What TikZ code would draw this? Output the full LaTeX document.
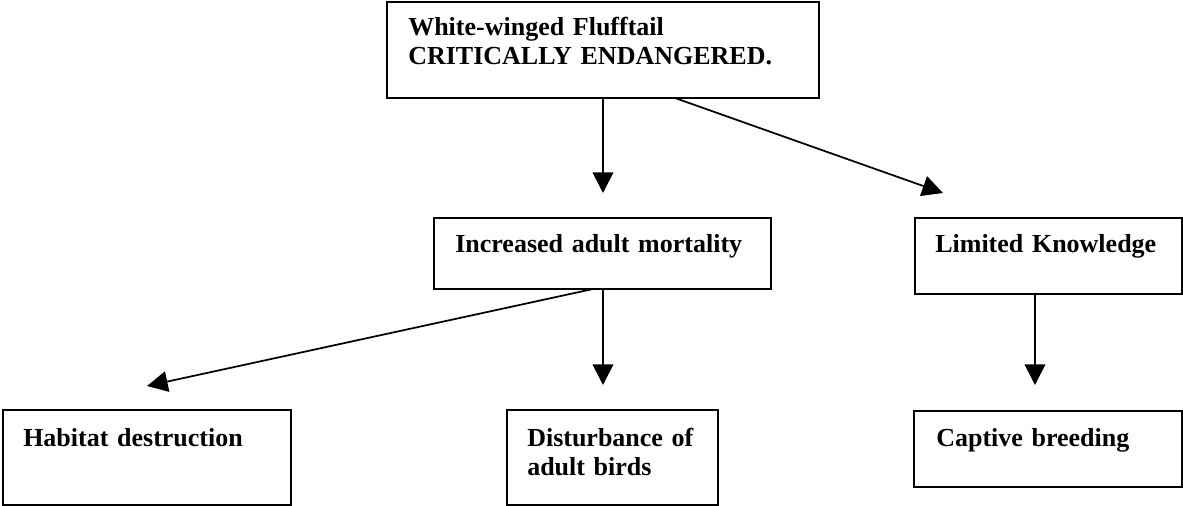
\documentclass[tikz,border=0pt]{standalone}
\usepackage{fontspec}
\setmainfont{Liberation Serif}
\usetikzlibrary{arrows.meta,calc}
\begin{document}
\begin{tikzpicture}[x=0.75pt,y=-0.75pt,
  box/.style={draw,line width=1.6pt,rectangle,inner sep=0pt,outer sep=0pt,anchor=north west},
  lbl/.style={anchor=base west,inner sep=0pt,font=\fontsize{19.5}{21.75}\selectfont\bfseries,text width=300pt,align=left},
  arr/.style={line width=1.3pt,-{Triangle[length=15.5pt,width=15.5pt]}}]
\useasboundingbox (0,0) rectangle (1183,506);
% boxes
\node[box,minimum width=324pt,minimum height=72pt] (top) at (387,2) {};
\node[box,minimum width=252.75pt,minimum height=53.25pt] (inc) at (434,218) {};
\node[box,minimum width=200.25pt,minimum height=57pt] (lim) at (915,218) {};
\node[box,minimum width=216pt,minimum height=71.25pt] (hab) at (3,410) {};
\node[box,minimum width=158.25pt,minimum height=71.25pt] (dist) at (507,410) {};
\node[box,minimum width=201pt,minimum height=57pt] (cap) at (914,411) {};
% texts
\node[lbl] (topt) at ($(top.north west)+(21,34)$) {White-winged Flufftail\\CRITICALLY ENDANGERED.};
\node[lbl] (inct) at ($(inc.north west)+(21,35)$) {Increased adult mortality};
\node[lbl] (limt) at ($(lim.north west)+(20,35)$) {Limited Knowledge};
\node[lbl] (habt) at ($(hab.north west)+(20,36)$) {Habitat destruction};
\node[lbl] (distt) at ($(dist.north west)+(20,36)$) {Disturbance of\\adult birds};
\node[lbl] (capt) at ($(cap.north west)+(22,35)$) {Captive breeding};
% arrow tips
\coordinate (t1) at (603,193);
\coordinate (t2) at (943,193);
\coordinate (t3) at (147,386);
\coordinate (t4) at (603,385);
\coordinate (t5) at (1035,385);
% connectors
\draw[arr] (top.south) -- (t1);
\draw[arr] ($(top.south)+(72,0)$) -- (t2);
\draw[arr] ($(inc.south)+(-9.5,0)$) -- (t3);
\draw[arr] ($(inc.south)+(0.5,0)$) -- (t4);
\draw[arr] ($(lim.south)+(-13.5,0)$) -- (t5);
\end{tikzpicture}
\end{document}
